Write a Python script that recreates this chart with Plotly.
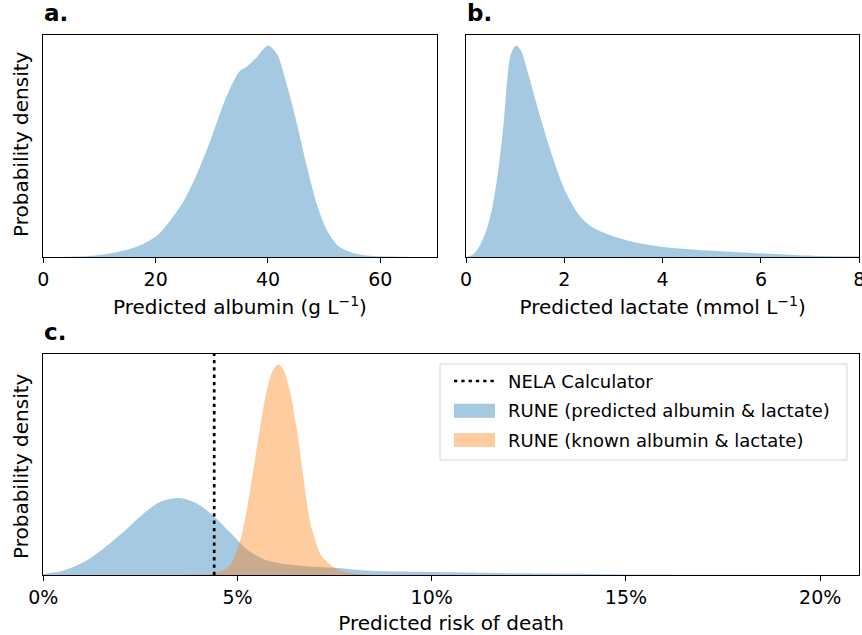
import plotly.graph_objects as go

# ---------------- data (relative density) ----------------
albumin_x = [0, 5, 7, 10, 12.5, 15.4, 17.8, 20.2, 22.6, 24.9, 27.3, 29.7, 31.5, 33.3,
             35.0, 36.2, 38.0, 40.0, 41.6, 43.4, 45.2, 47.0, 48.75, 50.5, 52.3, 54.7,
             56.5, 60, 65, 70]
albumin_y = [0, 0.001, 0.003, 0.01, 0.02, 0.038, 0.062, 0.10, 0.173, 0.26, 0.39, 0.547,
             0.682, 0.80, 0.88, 0.90, 0.945, 1.0, 0.96, 0.81, 0.626, 0.42, 0.245, 0.126,
             0.057, 0.022, 0.011, 0.003, 0.0005, 0]

lactate_x = [0, 0.136, 0.27, 0.41, 0.54, 0.68, 0.78, 0.85, 0.915, 1.017, 1.12, 1.25,
             1.42, 1.63, 1.83, 2.03, 2.31, 2.58, 2.98, 3.39, 4.05, 5.03, 6.05, 7.06, 8.0]
lactate_y = [0, 0.011, 0.05, 0.123, 0.24, 0.45, 0.67, 0.865, 0.96, 1.0, 0.976, 0.88,
             0.737, 0.57, 0.426, 0.306, 0.195, 0.139, 0.099, 0.072, 0.046, 0.029, 0.016,
             0.006, 0.003]

risk_pred_x = [0, 0.51, 1.03, 1.54, 2.06, 2.57, 3.0, 3.52, 3.95, 4.37, 4.8, 5.23, 5.66,
               6.18, 6.86, 7.56, 8.41, 10.0, 11.2, 12.27, 14.0, 15.5, 17, 19, 21]
risk_pred_y = [0.005, 0.02, 0.06, 0.124, 0.204, 0.29, 0.347, 0.366, 0.34, 0.283, 0.204,
               0.124, 0.076, 0.053, 0.04, 0.033, 0.02, 0.014, 0.011, 0.008, 0.005,
               0.002, 0.001, 0.0003, 0]

risk_known_x = [3.5, 4.03, 4.46, 4.8, 5.06, 5.23, 5.4, 5.58, 5.75, 5.92, 6.05, 6.18,
                6.35, 6.52, 6.69, 6.86, 7.03, 7.13, 7.29, 7.45, 7.6, 7.8, 8.2, 8.6]
risk_known_y = [0, 0.002, 0.01, 0.045, 0.156, 0.3, 0.49, 0.70, 0.873, 0.976, 1.0, 0.976,
                0.873, 0.70, 0.475, 0.26, 0.15, 0.1, 0.065, 0.04, 0.025, 0.012, 0.004, 0]

nela_risk = [4.4]  # NELA calculator predicted risk (%)

albumin_ticks = [0, 20, 40, 60]
lactate_ticks = [0, 2, 4, 6, 8]
risk_ticks = [0, 5, 10, 15, 20]
risk_tick_labels = ["0%", "5%", "10%", "15%", "20%"]

legend_labels = ["NELA Calculator",
                 "RUNE (predicted albumin & lactate)",
                 "RUNE (known albumin & lactate)"]

# ---------------- styling ----------------
W, H = 862, 635
FONT = "DejaVu Sans"
BLUE_FILL = "rgba(31,119,180,0.4)"
ORANGE_FILL = "rgba(255,127,14,0.4)"
BLUE_SOLID = "#a5c9e1"
ORANGE_SOLID = "#ffcb9f"


def px_x(v):
    return v / W


def px_y(v):
    return 1 - v / H


fig = go.Figure()


def area(x, y, color, xa, ya):
    return go.Scatter(x=x, y=y, mode="lines", fill="tozeroy", fillcolor=color,
                      line=dict(width=0, shape="spline", smoothing=0.8),
                      xaxis=xa, yaxis=ya, showlegend=False, hoverinfo="skip")


fig.add_trace(area(albumin_x, albumin_y, BLUE_FILL, "x", "y"))
fig.add_trace(area(lactate_x, lactate_y, BLUE_FILL, "x2", "y2"))
fig.add_trace(area(risk_pred_x, risk_pred_y, BLUE_FILL, "x3", "y3"))
fig.add_trace(area(risk_known_x, risk_known_y, ORANGE_FILL, "x3", "y3"))
fig.add_trace(go.Scatter(x=[nela_risk[0], nela_risk[0]], y=[0, 1.05], mode="lines",
                         line=dict(color="black", width=2.7, dash="3.3px,4px"),
                         xaxis="x3", yaxis="y3", showlegend=False, hoverinfo="skip"))

ax_common = dict(showline=True, mirror=True, linecolor="black", linewidth=1.3,
                 showgrid=False, zeroline=False)
xax = dict(ax_common, ticks="outside", ticklen=5, tickwidth=1.3, tickcolor="black",
           ticklabeloverflow="allow",
           tickfont=dict(family=FONT, size=19, color="black"))
yax = dict(ax_common, ticks="", showticklabels=False, range=[0, 1.05], fixedrange=True)

title_font = dict(family=FONT, size=20, color="black")

fig.update_layout(
    width=W, height=H,
    margin=dict(l=0, r=0, t=0, b=0, autoexpand=False),
    paper_bgcolor="white", plot_bgcolor="white",
    font=dict(family=FONT, size=18, color="black"),
    showlegend=False,
    xaxis=dict(xax, domain=[px_x(43.3), px_x(436.5)], range=[0, 70],
               tickmode="array", tickvals=albumin_ticks,
               ticktext=[str(t) for t in albumin_ticks], anchor="y",
               title=dict(text="Predicted albumin (g L<sup>\u22121</sup>)",
                          font=title_font, standoff=11)),
    yaxis=dict(yax, domain=[px_y(257), px_y(35)], anchor="x"),
    xaxis2=dict(xax, domain=[px_x(466), px_x(859.3)], range=[0, 8.0005],
                tickmode="array", tickvals=lactate_ticks,
                ticktext=[str(t) for t in lactate_ticks], anchor="y2",
                title=dict(text="Predicted lactate (mmol L<sup>\u22121</sup>)",
                           font=title_font, standoff=11)),
    yaxis2=dict(yax, domain=[px_y(257), px_y(35)], anchor="x2"),
    xaxis3=dict(xax, domain=[px_x(43.3), px_x(859)], range=[0, 21],
                tickmode="array", tickvals=risk_ticks, ticktext=risk_tick_labels,
                anchor="y3",
                title=dict(text="Predicted risk of death", font=title_font, standoff=11)),
    yaxis3=dict(yax, domain=[px_y(575), px_y(354)], anchor="x3"),
)

# panel letters and y titles
annotations = []
for letter, x0, y0 in [("a.", 42, 28), ("b.", 465, 28), ("c.", 42, 347)]:
    annotations.append(dict(text=f"<b>{letter}</b>", x=px_x(x0), y=px_y(y0),
                            xref="paper", yref="paper", xanchor="left", yanchor="bottom",
                            showarrow=False, font=dict(family=FONT, size=23, color="black")))
for yc in [144, 466]:
    annotations.append(dict(text="Probability density", x=px_x(21), y=px_y(yc),
                            xref="paper", yref="paper", xanchor="center", yanchor="middle",
                            textangle=-90, showarrow=False, font=title_font))

# legend (panel c, upper right)
shapes = []
lx0, lx1, ly0, ly1 = 440, 847, 364, 460
shapes.append(dict(type="rect", xref="paper", yref="paper",
                   x0=px_x(lx0), x1=px_x(lx1), y0=px_y(ly1), y1=px_y(ly0),
                   line=dict(color="#d5d5d5", width=1), fillcolor="rgba(255,255,255,0.8)",
                   layer="above"))
rows = [381, 410.7, 440]
shapes.append(dict(type="line", xref="paper", yref="paper",
                   x0=px_x(454), x1=px_x(495), y0=px_y(rows[0]), y1=px_y(rows[0]),
                   line=dict(color="black", width=2.7, dash="3.3px,4px"), layer="above"))
for yc, col in [(rows[1], BLUE_SOLID), (rows[2], ORANGE_SOLID)]:
    shapes.append(dict(type="rect", xref="paper", yref="paper",
                       x0=px_x(454), x1=px_x(495), y0=px_y(yc + 7), y1=px_y(yc - 7),
                       line=dict(width=0), fillcolor=col, layer="above"))
for yc, lab in zip(rows, legend_labels):
    annotations.append(dict(text=lab, x=px_x(506), y=px_y(yc), xref="paper", yref="paper",
                            xanchor="left", yanchor="middle", showarrow=False,
                            font=dict(family=FONT, size=18, color="black")))

fig.update_layout(annotations=annotations, shapes=shapes)

fig.write_html("out.html")
